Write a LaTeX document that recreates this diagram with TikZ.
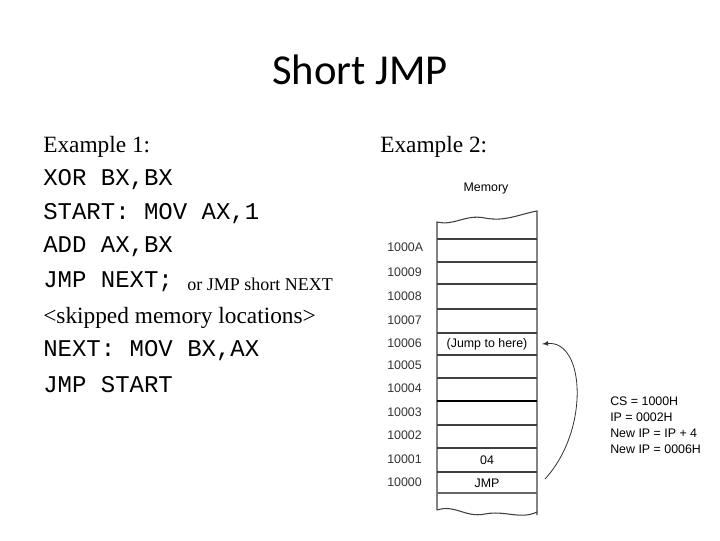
\documentclass[tikz,border=0pt]{standalone}
\usepackage{fontspec}
\setmainfont{Liberation Serif}
\newfontfamily\mono{Liberation Mono}
\newfontfamily\hsans{Liberation Sans}
\newfontfamily\titlef{Carlito}
\begin{document}
\begin{tikzpicture}[x=0.75pt,y=-0.75pt,
  code/.style={anchor=west,font=\mono\fontsize{18}{20}\selectfont,inner sep=0},
  serif/.style={anchor=west,font=\fontsize{17.5}{20}\selectfont,inner sep=0},
  addr/.style={anchor=west,font=\hsans\fontsize{9.3}{10}\selectfont,inner sep=0,text=black!80},
  cell/.style={font=\hsans\fontsize{9.3}{10}\selectfont,inner sep=0},
  ln/.style={draw=black!75,line width=0.8pt}]
\useasboundingbox (0,0) rectangle (720,540);
\node[font=\titlef\fontsize{32}{36}\selectfont] (title) at (360,70) {Short JMP};
\node[serif] (e1) at (43,147) {Example 1:};
\node[code] (c1) at (43,180) {XOR BX,BX};
\node[code] (c2) at (43,214) {START: MOV AX,1};
\node[code] (c3) at (43,247) {ADD AX,BX};
\node[code] (c4) at (43,282) {JMP NEXT;};
\node[serif,font=\fontsize{13.5}{16}\selectfont] (c4b) at (187,284) {or JMP short NEXT};
\node[serif] (sk) at (43,318) {<skipped memory locations>};
\node[code] (c5) at (43,351) {NEXT: MOV BX,AX};
\node[code] (c6) at (43,385) {JMP START};
\node[serif] (e2) at (380,147) {Example 2:};
% memory
\node[font=\hsans\fontsize{9.3}{10}\selectfont] (mem) at (486,189) {Memory};
\draw[ln] (437,510) -- (437,222) .. controls (455,226) and (465,214) .. (485,218) .. controls (505,222) and (520,214) .. (537,211) -- (537,515);
\draw[ln] (437,510) .. controls (455,504) and (465,518) .. (485,514) .. controls (505,510) and (520,520) .. (537,512);
\foreach \y in {239,262,284,309,333,355,378,425,448,472}
  \draw[ln] (437,\y) -- (537,\y);
\draw[black,line width=1.3pt] (437,401) -- (537,401);
\draw[black!60,line width=1.6pt] (437,493) -- (537,493);
\foreach \a/\y in {1000A/247,10009/272,10008/296,10007/320,10006/343,10005/365,10004/388,10003/412,10002/435,10001/459,10000/482}
  \node[addr] at (387,\y) {\a};
\node[cell] (jt) at (487,344) {(Jump to here)};
\node[cell] (v04) at (487,460) {04};
\node[cell] (jmp) at (487,483) {JMP};
\coordinate (s) at (545,479);
\coordinate (t) at (542,344);
\draw[black!80,line width=0.6pt,-latex] (s) .. controls (590,430) and (585,340) .. (t);
\node[anchor=north west,font=\hsans\fontsize{9.3}{12}\selectfont,align=left,inner sep=0] (info) at (610,397) {CS = 1000H\\IP = 0002H\\New IP = IP + 4\\New IP = 0006H};
\end{tikzpicture}
\end{document}
